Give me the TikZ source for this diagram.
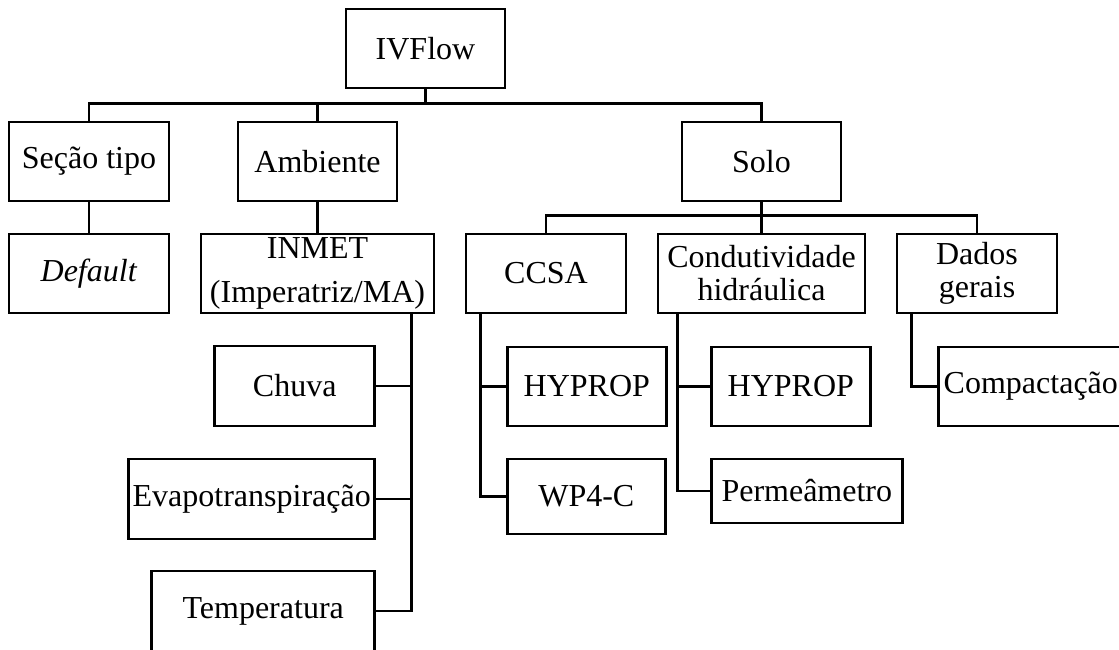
\documentclass[tikz,border=0pt]{standalone}
\usepackage{fontspec}
\setmainfont{Liberation Serif}
\usepackage{tikz}
\usetikzlibrary{positioning,calc}
\tikzset{unit/.style={draw=black,line width=2.6pt,minimum width=160pt,minimum height=79pt,inner sep=3pt,align=center,font=\fontsize{32}{33}\selectfont}, link/.style={line width=2.6pt,draw=black}}

\begin{document}
\begin{tikzpicture}[x=1pt,y=-1pt]
\useasboundingbox (0,0) rectangle (1119,649);
\node[unit,minimum width=159pt] (ivflow) at (425.5,48.5) {IVFlow};
\node[unit] (secao) at (89,161.5) {Seção tipo};
\node[unit,minimum width=159pt] (ambiente) at (317.5,161.5) {Ambiente};
\node[unit,minimum width=159pt] (solo) at (761.5,161.5) {Solo};
\node[unit] (default) at (89,273.5) {\textit{Default}};
\node[unit,minimum width=233pt] (inmet) at (317.5,273.5) {INMET\\[11pt](Imperatriz/MA)};
\node[unit,anchor=east,minimum height=80pt] (chuva) at (376,386) {Chuva};
\node[unit,anchor=east,minimum width=246pt,minimum height=80pt] (evapo) at (376,499) {Evapotranspiração};
\node[unit,anchor=east,minimum width=223pt,minimum height=80pt] (temp) at (376,611) {Temperatura};
\node[unit] (ccsa) at (546,273.5) {CCSA};
\node[unit,minimum width=207pt] (cond) at (761.5,273.5) {Condutividade\\hidráulica};
\node[unit] (dados) at (977,273.5) {Dados\\gerais};
\node[unit,anchor=west,minimum width=159pt] (hypropa) at (506,386.5) {HYPROP};
\node[unit,anchor=west,minimum width=158pt,minimum height=75pt] (wpc) at (506,496.5) {WP4-C};
\node[unit,anchor=west,minimum width=159pt] (hypropb) at (710,386.5) {HYPROP};
\node[unit,anchor=west,minimum width=191pt,minimum height=64pt] (perm) at (710,491) {Permeâmetro};
\node[unit,anchor=west,minimum width=185pt] (compac) at (937,386.5) {Compactação};
% level one
\coordinate (busa) at ([yshift=17pt]secao.north);
\draw[link] (ivflow.south) -- (ivflow.south |- busa);
\draw[link] (secao.north) -- (busa) -| (solo.north);
\draw[link] (ambiente.north) -- (ambiente.north |- busa);
\draw[link] (secao) -- (default);
\draw[link] (ambiente) -- (inmet);
% soil branch
\coordinate (busb) at ([yshift=17pt]ccsa.north);
\draw[link] (ccsa.north) -- (busb) -| (dados.north);
\draw[link] (solo.south) -- (cond.north);
% side rails
\coordinate (railinmet) at ([xshift=-24pt]inmet.south east);
\draw[link] (railinmet) |- (temp.east);
\draw[link] (chuva.east) -- (chuva.east -| railinmet);
\draw[link] (evapo.east) -- (evapo.east -| railinmet);
\coordinate (railccsa) at ([xshift=16pt]ccsa.south west);
\draw[link] (railccsa) |- (wpc.west);
\draw[link] (hypropa.west) -- (hypropa.west -| railccsa);
\coordinate (railcond) at ([xshift=21pt]cond.south west);
\draw[link] (railcond) |- (perm.west);
\draw[link] (hypropb.west) -- (hypropb.west -| railcond);
\coordinate (raildados) at ([xshift=16pt]dados.south west);
\draw[link] (raildados) |- (compac.west);
\end{tikzpicture}
\end{document}
